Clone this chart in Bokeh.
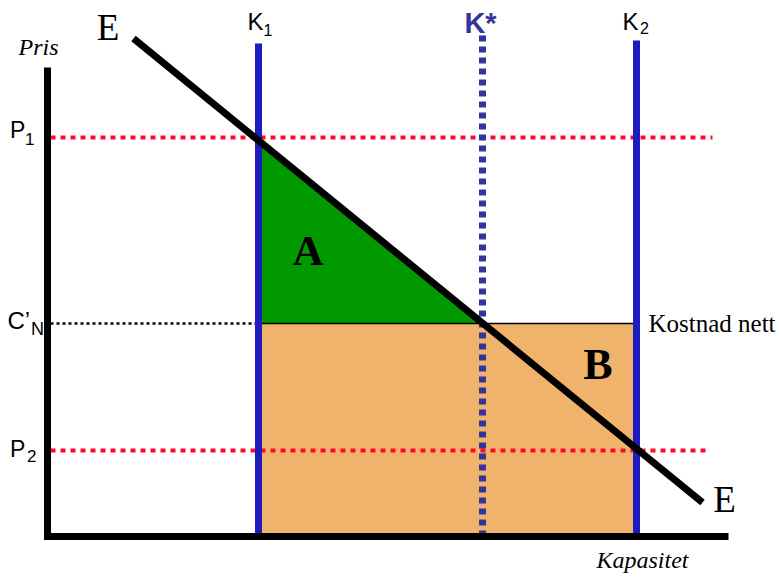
import numpy as np
from bokeh.plotting import figure
from bokeh.core.properties import value
from bokeh.embed import file_html
from bokeh.resources import INLINE

# ---- data (capacity on x, price on y) ----
capacity_names = ["K1", "K*", "K2"]
capacity_values = [21.1, 43.5, 58.9]
price_names = ["P1", "C'N", "P2"]
price_values = [39.9, 21.3, 8.6]
demand_x = [8.6, 65.5]          # E-E curve endpoints
demand_y = [49.8, 3.4]
axis_x_max = 68.1
axis_y_max = 46.9
price_line_end = [66.5, 66.3]   # right end of P1 / P2 dotted lines

K1, KSTAR, K2 = capacity_values
P1, CN, P2 = price_values
E_at_K1 = float(np.interp(K1, demand_x, demand_y))

p = figure(width=780, height=579, x_range=(-4.7, 73.3), y_range=(-4.3, 53.6),
           output_backend="svg", toolbar_location=None,
           x_axis_type=None, y_axis_type=None, min_border=0)
p.grid.visible = False
p.outline_line_color = None
p.background_fill_color = "white"
p.border_fill_color = "white"

ORANGE = "#F0B36B"
GREEN = "#009900"
BLUE = "#1C1CBF"
KSTAR_COL = "#333399"
RED = "#FF0A2E"

# area B (orange rectangle) and area A (green triangle)
p.quad(left=[K1], right=[K2], bottom=[0], top=[CN], fill_color=ORANGE, line_color=None)
p.patch(x=[K1, K1, KSTAR], y=[CN, E_at_K1, CN], fill_color=GREEN, line_color=None)

# net cost line
p.line(x=[0.3, K1], y=[CN, CN], line_color="black", line_width=2.5, line_dash="3 3")
p.line(x=[K1, K2], y=[CN, CN], line_color="black", line_width=1.5)

# price lines
p.line(x=[0.3, price_line_end[0]], y=[P1, P1], line_color=RED, line_width=4, line_dash="5 5")
p.line(x=[0.3, price_line_end[1]], y=[P2, P2], line_color=RED, line_width=4, line_dash="5 5")

# K* dotted
p.line(x=[KSTAR, KSTAR], y=[0, 50.1], line_color=KSTAR_COL, line_width=7, line_dash="6 5")

# K1 / K2
p.line(x=[K1, K1], y=[0.1, 49.3], line_color=BLUE, line_width=7)
p.line(x=[K2, K2], y=[0.0, 49.6], line_color=BLUE, line_width=7)

# demand curve E-E
p.line(x=demand_x, y=demand_y, line_color="black", line_width=7)

# axes
p.line(x=[0, 0], y=[-0.3, axis_y_max], line_color="black", line_width=7)
p.line(x=[-0.35, axis_x_max], y=[0, 0], line_color="black", line_width=7)


def label(x, y, s, font, size, style="normal", color="black", align="left"):
    # y is the wanted baseline; raise it to compensate the renderer's baseline shift
    p.text(x=[x], y=[y + 0.037 * size], text=[s], text_font=value(font),
           text_font_size=f"{size}px", text_font_style=style, text_color=color,
           text_align=align, text_baseline="alphabetic")


SERIF = "Liberation Serif"
SANS = "Liberation Sans"

label(6.05, 49.5, "E", SERIF, 37, align="center")
label(67.7, 2.3, "E", SERIF, 37, align="center")
label(-0.9, 48.1, "Pris", SERIF, 24, style="italic", align="center")
label(59.5, -3.2, "Kapasitet", SERIF, 24, style="italic", align="center")

label(K1 - 1.1, 50.6, "K", SANS, 24)
label(K1 + 0.5, 50.1, "1", SANS, 16)
label(K2 - 1.4, 50.6, "K", SANS, 24)
label(K2 + 0.35, 50.3, "2", SANS, 16)
label(KSTAR - 0.2, 50.3, "K*", SANS, 29, style="bold", color=KSTAR_COL, align="center")

label(-3.75, P1 - 0.1, "P", SANS, 23)
label(-2.25, P1 - 0.8, "1", SANS, 17)
label(-4.0, CN - 0.6, "C’", SANS, 24)
label(-1.65, CN - 1.2, "N", SANS, 18)
label(-3.75, P2 - 0.7, "P", SANS, 23)
label(-2.05, P2 - 1.2, "2", SANS, 17)

label(K2 + 1.2, CN - 0.9, "Kostnad nett", SERIF, 25)
label(26.05, 27.0, "A", SERIF, 43, style="bold", align="center")
label(55.05, 15.6, "B", SERIF, 44, style="bold", align="center")

open("out.html", "w").write(file_html(p, INLINE))
